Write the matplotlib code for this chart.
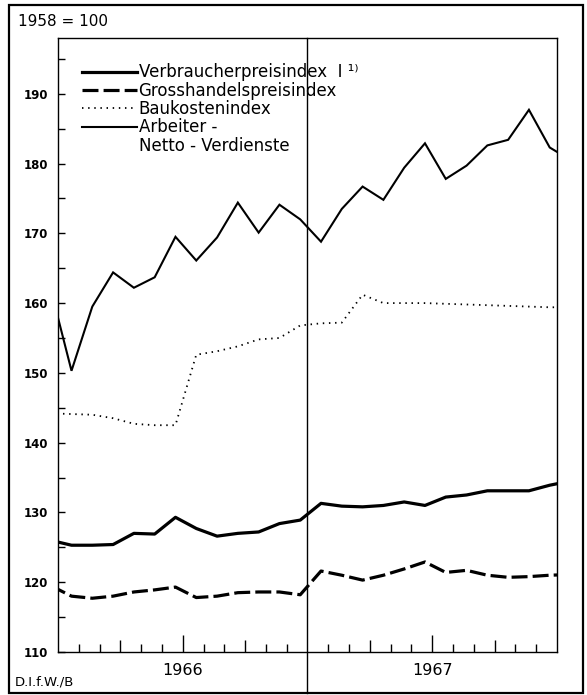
import numpy as np
import matplotlib
matplotlib.use("Agg")
import matplotlib.pyplot as plt
from matplotlib.lines import Line2D
from matplotlib.patches import Rectangle

# ---- data (monthly values, Dec 1965 ... Jan 1968; 1958 = 100) ----
month_index = list(range(-1, 25))          # -1 = Dec 1965, 0..23 = 1966/1967, 24 = Jan 1968
verbraucher = [126.0, 125.3, 125.3, 125.4, 127.0, 126.9, 129.3, 127.7, 126.6, 127.0, 127.2, 128.4, 128.9,
               131.3, 130.9, 130.8, 131.0, 131.5, 131.0, 132.2, 132.5, 133.1, 133.1, 133.1, 133.9, 134.5]
grosshandel = [119.5, 118.0, 117.7, 118.0, 118.6, 118.9, 119.3, 117.8, 118.0, 118.5, 118.6, 118.6, 118.2,
               121.6, 121.0, 120.3, 121.0, 121.9, 122.9, 121.4, 121.7, 121.0, 120.7, 120.8, 121.0, 121.1]
baukosten = [144.2, 144.1, 144.0, 143.5, 142.7, 142.5, 142.5, 152.6, 153.1, 153.8, 154.8, 155.0, 156.8,
             157.1, 157.2, 161.2, 160.0, 160.0, 160.0, 159.9, 159.8, 159.7, 159.6, 159.5, 159.4, 159.4]
arbeiter = [162.0, 150.3, 159.5, 164.4, 162.2, 163.7, 169.5, 166.1, 169.4, 174.4, 170.1, 174.1, 172.0,
            168.8, 173.5, 176.7, 174.8, 179.4, 182.9, 177.8, 179.7, 182.6, 183.4, 187.7, 182.3, 180.5]
years = ["1966", "1967"]
labels = ["Verbraucherpreisindex  I \u00b9\u207e", "Grosshandelspreisindex", "Baukostenindex",
          "Arbeiter -", "Netto - Verdienste"]
y_major = list(range(110, 191, 10))
y_minor = list(range(115, 196, 10))

plt.rcParams["font.family"] = ["DejaVu Sans"]

fig = plt.figure(figsize=(5.87, 6.95), dpi=100)
ax = fig.add_axes([0.0988, 0.0619, 0.8501, 0.8835])

x = np.array(month_index) + 0.65
l1, = ax.plot(x, verbraucher, color="black", lw=2.3, solid_joinstyle="round")
l2, = ax.plot(x, grosshandel, color="black", lw=2.3, dashes=(5, 1.6))
l3, = ax.plot(x, baukosten, color="black", lw=1.3, linestyle=(0, (0.8, 2.6)))
l4, = ax.plot(x, arbeiter, color="black", lw=1.5, solid_joinstyle="miter")

ax.set_xlim(0, 24)
ax.set_ylim(110, 198)

# divider between the years, extending below the axis to the frame
ax.axvline(12, ymin=-0.067, ymax=1, color="black", lw=1.0, clip_on=False)

# y ticks
ax.set_yticks(y_major)
ax.set_yticks(y_minor, minor=True)
ax.tick_params(axis="y", which="both", direction="in", length=5, width=1, pad=7)
for t in ax.get_yticklabels():
    t.set_fontsize(8.5)
    t.set_fontweight("bold")

# x ticks: monthly short, quarterly medium, half-yearly long
ax.set_xticks([3, 6, 9, 15, 18, 21])
ax.set_xticklabels(["", years[0], "", "", years[1], ""], fontsize=11.5)
ax.set_xticks([m for m in range(1, 24) if m != 12], minor=True)
ax.tick_params(axis="x", which="major", direction="in", length=8.6, width=1, pad=8)
ax.tick_params(axis="x", which="minor", direction="in", length=5.5, width=1)
for tk, pos in zip(ax.xaxis.get_major_ticks(), [3, 6, 9, 15, 18, 21]):
    if pos in (6, 18):
        tk.tick1line.set_markersize(12)

for sp in ax.spines.values():
    sp.set_linewidth(1.0)

# legend
blank = Line2D([], [], color="none")
leg = ax.legend([l1, l2, l3, l4, blank], labels, loc="upper left",
                bbox_to_anchor=(0.048, 0.9586), frameon=False, fontsize=12,
                handlelength=3.3, handletextpad=0.1, labelspacing=0.02,
                borderpad=0, borderaxespad=0)

# texts
fig.text(18 / 587, 1 - 21.5 / 695, "1958 = 100", fontsize=11, va="center", ha="left")
fig.text(15 / 587, 1 - 682 / 695, "D.I.f.W./B", fontsize=9.5, va="center", ha="left")

# outer frame
fig.patches.append(Rectangle((0.0153, 0.0029), 0.9779, 0.9899, transform=fig.transFigure,
                             fill=False, edgecolor="black", lw=1.6))

fig.savefig("out.png", dpi=100)
